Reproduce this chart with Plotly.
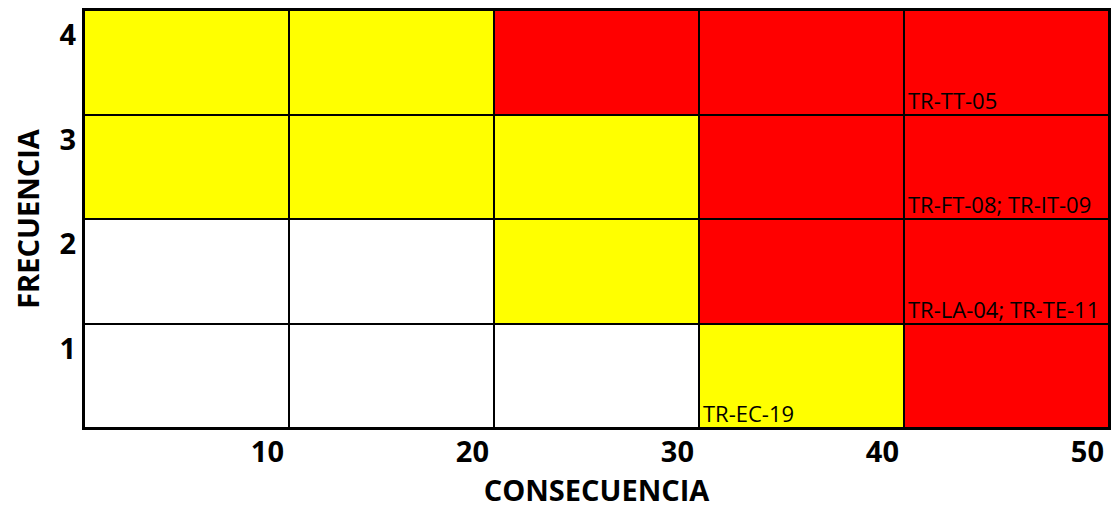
import plotly.graph_objects as go

# Data
consecuencia = [10, 20, 30, 40, 50]
frecuencia = [1, 2, 3, 4]
# risk level per cell: 0 = bajo (white), 1 = medio (yellow), 2 = alto (red)
nivel = [
    [0, 0, 0, 1, 2],  # frecuencia 1
    [0, 0, 1, 2, 2],  # frecuencia 2
    [1, 1, 1, 2, 2],  # frecuencia 3
    [1, 1, 2, 2, 2],  # frecuencia 4
]
etiquetas = [  # (consecuencia, frecuencia, texto)
    (50, 4, "TR-TT-05"),
    (50, 3, "TR-FT-08; TR-IT-09"),
    (50, 2, "TR-LA-04; TR-TE-11"),
    (40, 1, "TR-EC-19"),
]

step = consecuencia[1] - consecuencia[0]
x_edges = [consecuencia[0] - step] + consecuencia
y_edges = [frecuencia[0] - 1] + frecuencia

FONT = "Open Sans"

fig = go.Figure(go.Heatmap(
    x=x_edges, y=y_edges, z=nivel,
    zmin=0, zmax=2,
    colorscale=[[0, "#FFFFFF"], [0.5, "#FFFF00"], [1, "#FF0000"]],
    showscale=False, xgap=2, ygap=2, hoverinfo="skip",
))

for cx, fy, txt in etiquetas:
    fig.add_annotation(
        x=cx - step, y=fy - 1, text=txt, showarrow=False,
        xanchor="left", yanchor="bottom", xshift=2, yshift=-2,
        font=dict(family=FONT, size=22, color="black"),
    )

# the page adds an 8px margin, so the figure is sized to the visible area
fig.update_layout(
    width=1103, height=502,
    margin=dict(l=76, r=0, t=2, b=82),
    paper_bgcolor="white", plot_bgcolor="black",
    showlegend=False,
)
fig.update_xaxes(
    range=[x_edges[0], x_edges[-1]], tickvals=consecuencia,
    ticktext=[str(v) for v in consecuencia],
    ticklabelposition="outside left", ticklabelshift=-4,
    ticklabelstandoff=-3,
    ticks="", showgrid=False, zeroline=False,
    showline=True, linecolor="black", linewidth=2, mirror=True,
    tickfont=dict(family=FONT, size=29, color="black", weight="bold"),
    title=dict(text="CONSECUENCIA", standoff=10,
               font=dict(family=FONT, size=29, color="black", weight="bold")),
)
fig.update_yaxes(
    range=[y_edges[0], y_edges[-1]], tickvals=[f - 0.5 for f in frecuencia],
    ticktext=[str(v) for v in frecuencia],
    ticklabelshift=-27, ticks="", ticklabelstandoff=0,
    showgrid=False, zeroline=False,
    showline=True, linecolor="black", linewidth=2, mirror=True,
    tickfont=dict(family=FONT, size=29, color="black", weight="bold"),
    title=dict(text="FRECUENCIA", standoff=13,
               font=dict(family=FONT, size=29, color="black", weight="bold")),
)

fig.write_html("out.html")
